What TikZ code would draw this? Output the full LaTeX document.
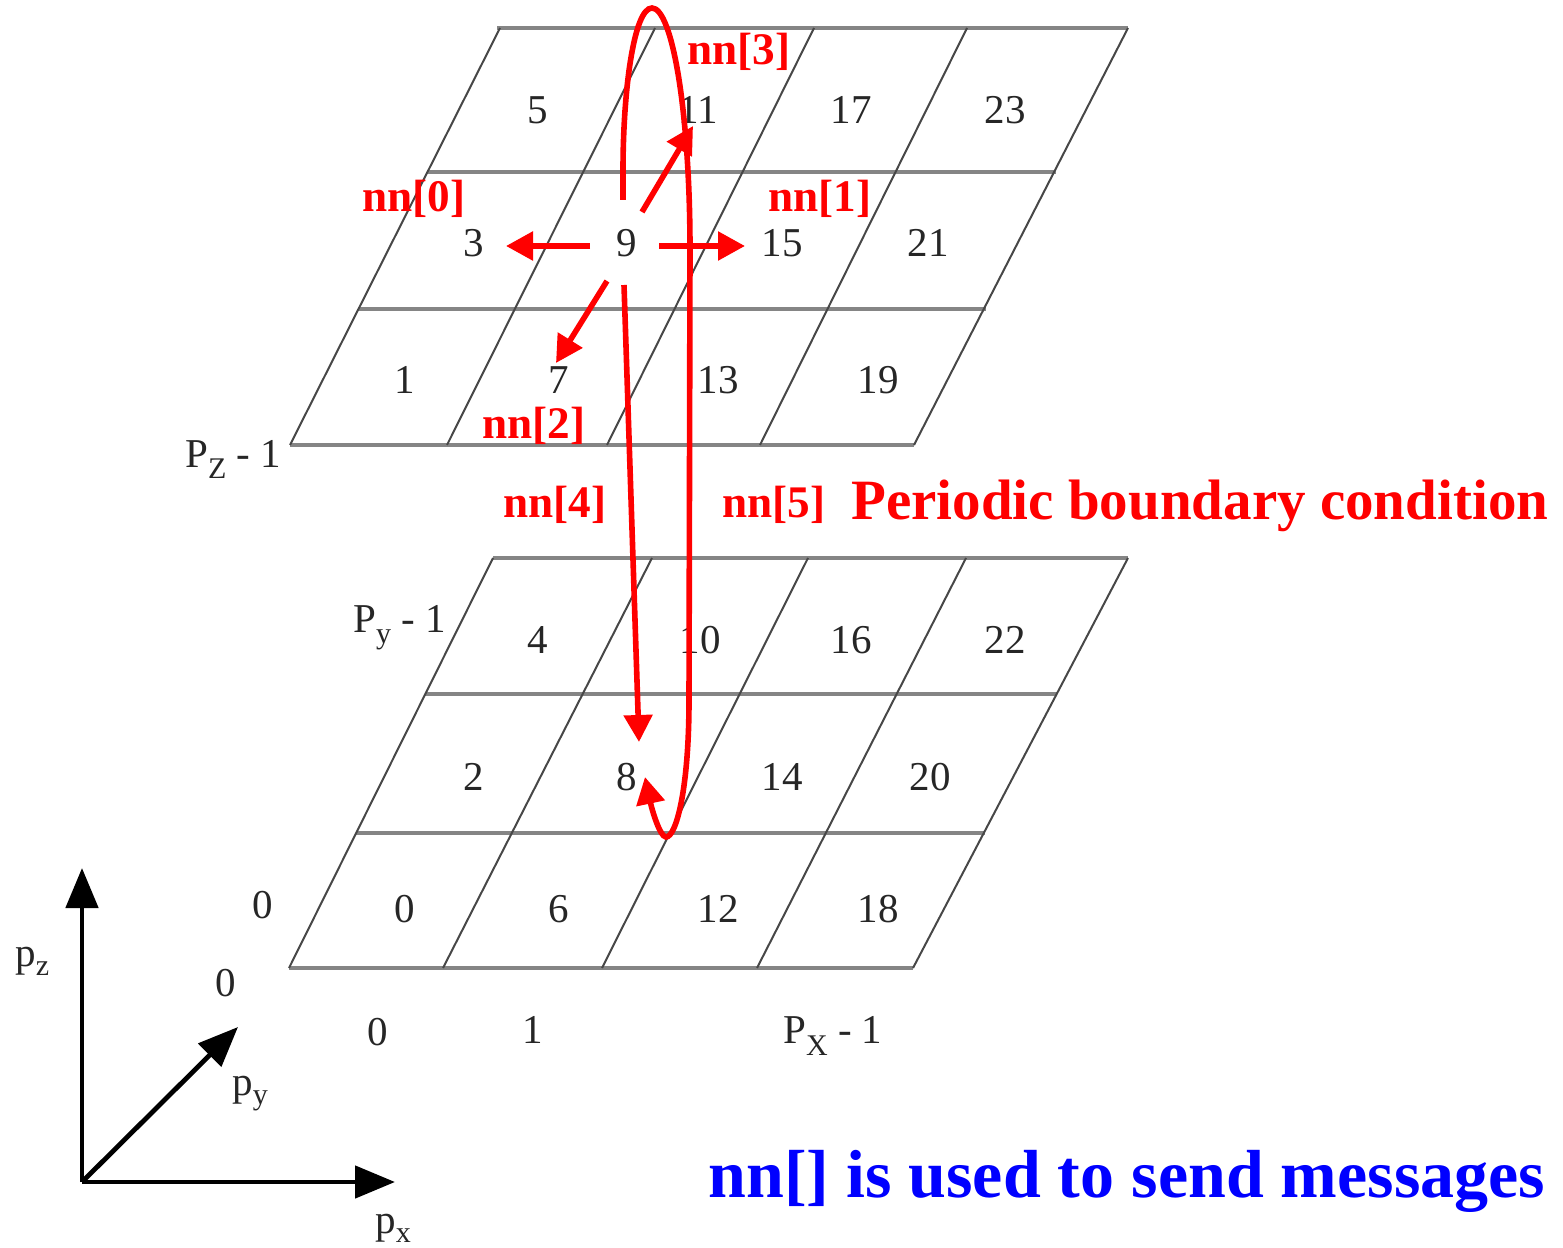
\documentclass[tikz,border=0pt]{standalone}
\usepackage{fontspec}
\setmainfont{Liberation Serif}
\usetikzlibrary{arrows.meta}
\newcommand\lowsub[2]{\raisebox{-#1}{\fontsize{15bp}{15bp}\selectfont #2}}
\begin{document}
\begin{tikzpicture}[x=0.5bp,y=-0.5bp,
  hline/.style={draw=black!48, line width=1.9bp},
  sline/.style={draw=black!72, line width=1bp},
  num/.style={font=\fontsize{20.5bp}{20bp}\selectfont, text=black!85, inner sep=0pt},
  lab/.style={font=\fontsize{20.5bp}{20bp}\selectfont, text=black!85, inner sep=0pt, anchor=base west},
  nnlab/.style={font=\fontsize{22.6bp}{23bp}\selectfont\bfseries, text=red, inner sep=0pt, anchor=base west},
  redarrow/.style={draw=red, line width=2.8bp, -{Triangle[length=13.5bp,width=14bp]}},
  axisarrow/.style={draw=black, line width=2.4bp, -{Triangle[length=20bp,width=16bp]}},
]
\useasboundingbox (0,0) rectangle (1563,1248);

% ---------- top grid ----------
\draw[hline] (497,28) -- (1128,28);
\draw[hline] (427,172) -- (1056,172);
\draw[hline] (358,309) -- (986,309);
\draw[hline] (290,445) -- (914,445);
\draw[sline] (290,445) -- (500,28);
\draw[sline] (447,445) -- (655,28);
\draw[sline] (607,445) -- (814,28);
\draw[sline] (760,445) -- (967,28);
\draw[sline] (914,445) -- (1128,28);

% ---------- bottom grid ----------
\draw[hline] (493,558) -- (1128,558);
\draw[hline] (425,694) -- (1057,694);
\draw[hline] (356,833) -- (985,833);
\draw[hline] (289,968) -- (913,968);
\draw[sline] (289,968) -- (493,558);
\draw[sline] (443,968) -- (652,558);
\draw[sline] (602,968) -- (808,558);
\draw[sline] (757,968) -- (966,558);
\draw[sline] (913,968) -- (1128,558);

% ---------- cell numbers, top ----------
\node[num] (n5)  at (538,110) {5};
\node[num] (n11) at (698,110) {11};
\node[num] (n17) at (851,110) {17};
\node[num] (n23) at (1005,110) {23};
\node[num] (n3)  at (474,243) {3};
\node[num] (n9)  at (627,243) {9};
\node[num] (n15) at (782,243) {15};
\node[num] (n21) at (928,243) {21};
\node[num] (n1)  at (405,380) {1};
\node[num] (n7)  at (559,380) {7};
\node[num] (n13) at (718,380) {13};
\node[num] (n19) at (878,380) {19};

% ---------- cell numbers, bottom ----------
\node[num] (n4)  at (538,640) {4};
\node[num] (n10) at (700,640) {10};
\node[num] (n16) at (851,640) {16};
\node[num] (n22) at (1005,640) {22};
\node[num] (n2)  at (474,777) {2};
\node[num] (n8)  at (627,777) {8};
\node[num] (n14) at (782,777) {14};
\node[num] (n20) at (930,777) {20};
\node[num] (n0)  at (405,909) {0};
\node[num] (n6)  at (559,909) {6};
\node[num] (n12) at (718,909) {12};
\node[num] (n18) at (878,909) {18};

% ---------- index labels ----------
\node[lab] (pzl) at (185,468) {P\lowsub{5bp}{Z} - 1};
\node[lab] (pyl) at (353,632) {P\lowsub{5.5bp}{y} - 1};
\node[lab] (pxl) at (783,1043) {P\lowsub{6bp}{X} - 1};
\node[num] (z0a) at (263,905) {0};
\node[num] (z0b) at (226,983) {0};
\node[num] (x0)  at (378,1032) {0};
\node[num] (x1)  at (533,1030) {1};

% ---------- axes ----------
\coordinate (org) at (82,1182);
\coordinate (zt) at (82,868);
\coordinate (xt) at (395,1182);
\coordinate (yt) at (238,1027);
\draw[axisarrow] (org) -- (zt);
\draw[axisarrow] (org) -- (xt);
\draw[axisarrow] (org) -- (yt);
\node[lab] (axz) at (15,966) {p\lowsub{4.5bp}{z}};
\node[lab] (axy) at (232,1095) {p\lowsub{4.5bp}{y}};
\node[lab] (axx) at (375,1233) {p\lowsub{4.5bp}{x}};

% ---------- red arrows ----------
\coordinate (s0) at (590,246);  \coordinate (e0) at (506,246);
\coordinate (s1) at (659,246);  \coordinate (e1) at (745,246);
\coordinate (s3) at (642,212);  \coordinate (e3) at (693,126);
\coordinate (s2) at (607,281);  \coordinate (e2) at (556,363);
\coordinate (s4) at (624,285);  \coordinate (e4) at (639,742);
\coordinate (s5) at (623,200);  \coordinate (e5) at (645,777);
\draw[redarrow] (s0) -- (e0);
\draw[redarrow] (s1) -- (e1);
\draw[redarrow] (s3) -- (e3);
\draw[redarrow] (s2) -- (e2);
\draw[redarrow] (s4) -- (e4);
\draw[redarrow] (s5) -- (623,170) .. controls (623,90) and (634,8) .. (652,8)
  .. controls (672,8) and (690,110) .. (690,250) -- (689,700)
  .. controls (689,790) and (676,837) .. (666,837)
  .. controls (660,837) and (652,810) .. (e5);

% ---------- red labels ----------
\node[nnlab] (l3) at (687,65) {nn[3]};
\node[nnlab] (l0) at (362,212) {nn[0]};
\node[nnlab] (l1) at (768,212) {nn[1]};
\node[nnlab] (l2) at (482,439) {nn[2]};
\node[nnlab] (l4) at (503,518) {nn[4]};
\node[nnlab] (l5) at (722,518) {nn[5]};
\node[nnlab, font=\fontsize{28.5bp}{29bp}\selectfont\bfseries] (pbc) at (851,520) {Periodic boundary condition};
\node[nnlab, text=blue, font=\fontsize{34bp}{35bp}\selectfont\bfseries] (msg) at (708,1197) {nn[] is used to send messages};
\end{tikzpicture}
\end{document}
